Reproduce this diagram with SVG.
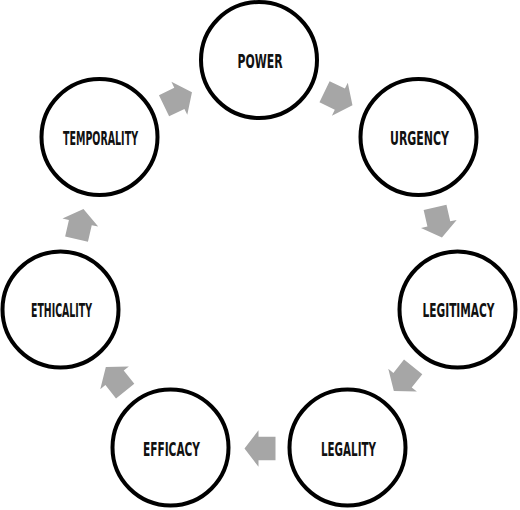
<svg xmlns="http://www.w3.org/2000/svg" width="520" height="510" viewBox="0 0 520 510">
<style>
.node circle{fill:#ffffff;stroke:#000000;stroke-width:4}
.node text{font-family:"DejaVu Sans Condensed","DejaVu Sans","Liberation Sans",sans-serif;font-stretch:condensed;font-weight:bold;font-size:20px;fill:#111111;text-anchor:middle}
.arrow{fill:#a6a6a6}
</style>
<defs>
<polygon id="arr" points="-15.5,-11.7 1.5,-11.7 1.5,-18.3 15.5,0 1.5,18.3 1.5,11.7 -15.5,11.7"/>
</defs>
<rect width="520" height="510" fill="#ffffff"/>
<g id="connectors">
<use href="#arr" class="arrow" transform="translate(338.5,98.5) rotate(25.71)"/>
<use href="#arr" class="arrow" transform="translate(438.5,222.5) rotate(77.14)"/>
<use href="#arr" class="arrow" transform="translate(403.5,379) rotate(128.57)"/>
<use href="#arr" class="arrow" transform="translate(260,448.5) rotate(180)"/>
<use href="#arr" class="arrow" transform="translate(115.5,379) rotate(231.43)"/>
<use href="#arr" class="arrow" transform="translate(80,224) rotate(282.86)"/>
<use href="#arr" class="arrow" transform="translate(178,99) rotate(334.29)"/>
</g>
<g id="power" class="node"><circle cx="259" cy="60" r="58"/><text x="260" y="67.5" textLength="45" lengthAdjust="spacingAndGlyphs">POWER</text></g>
<g id="urgency" class="node"><circle cx="418.5" cy="137" r="58"/><text x="419.5" y="144.5" textLength="59" lengthAdjust="spacingAndGlyphs">URGENCY</text></g>
<g id="legitimacy" class="node"><circle cx="457.5" cy="309.5" r="58"/><text x="458.5" y="316.5" textLength="72" lengthAdjust="spacingAndGlyphs">LEGITIMACY</text></g>
<g id="legality" class="node"><circle cx="347.5" cy="447.5" r="58"/><text x="348.5" y="455.5" textLength="55" lengthAdjust="spacingAndGlyphs">LEGALITY</text></g>
<g id="efficacy" class="node"><circle cx="170.5" cy="447.5" r="58"/><text x="171.5" y="455.5" textLength="57" lengthAdjust="spacingAndGlyphs">EFFICACY</text></g>
<g id="ethicality" class="node"><circle cx="60.5" cy="309.5" r="58"/><text x="61.5" y="316.5" textLength="61" lengthAdjust="spacingAndGlyphs">ETHICALITY</text></g>
<g id="temporality" class="node"><circle cx="99.5" cy="137" r="58"/><text x="100.5" y="144.5" textLength="75" lengthAdjust="spacingAndGlyphs">TEMPORALITY</text></g>
</svg>
